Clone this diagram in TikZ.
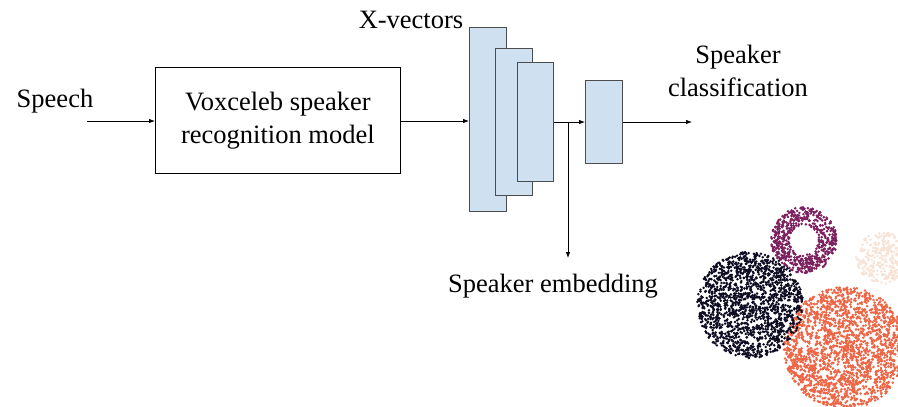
\documentclass[tikz,border=0pt]{standalone}
\usepackage{fontspec}
\setmainfont{Liberation Serif}
\usetikzlibrary{arrows.meta}
\tikzset{
  lbl/.style={font=\fontsize{26.5}{33}\selectfont, align=center, inner sep=0pt},
  xblk/.style={draw=black!70, fill=xfill, line width=0.9pt, inner sep=0pt, anchor=north west},
  conn/.style={line width=0.8pt, -{Latex[length=6pt,width=4.5pt]}},
}
\definecolor{xfill}{HTML}{CFE0F1}
\definecolor{cblack}{HTML}{0E0C22}
\definecolor{cmag}{HTML}{7B1F5E}
\definecolor{corange}{HTML}{EE6545}
\definecolor{ccream}{HTML}{F6E3D6}
\newcommand\myblob[7]{% cx cy Rmax n color seed Rmin-fraction
  \pgfmathsetseed{#6}
  \foreach \i in {1,...,#4}{
    \pgfmathsetmacro\rr{#3*sqrt(#7+(1-#7)*rnd)}
    \pgfmathsetmacro\aa{360*rnd}
    \fill[#5] ({#1+\rr*cos(\aa)},{#2+\rr*sin(\aa)}) circle[radius=1.4pt];
  }}
\begin{document}
\begin{tikzpicture}[x=1pt,y=-1pt]
\useasboundingbox (0,0) rectangle (898,407);
% nodes
\node[lbl] (speech) at (55,101) {Speech};
\node[draw, line width=0.8pt, minimum width=245pt, minimum height=106pt, anchor=north west, lbl] (model) at (155,67) {Voxceleb speaker\\recognition model};
\node[lbl] (xv) at (411,20) {X-vectors};
\node[xblk, minimum width=37pt, minimum height=184pt] (r1) at (469,27) {};
\node[xblk, minimum width=37pt, minimum height=147pt] (r2) at (495,48) {};
\node[xblk, minimum width=36pt, minimum height=119pt] (r3) at (517,62) {};
\node[xblk, minimum width=37pt, minimum height=83pt] (r4) at (585,80) {};
\node[lbl] (cls) at (738,71) {Speaker\\classification};
\node[lbl] (emb) at (553,286) {Speaker embedding};
% connectors
\coordinate (sp0) at (87,121);
\coordinate (br) at (568,122);
\coordinate (embend) at (568,258);
\coordinate (clsend) at (692,122);
\draw[conn] (sp0) -- (sp0 -| model.west);
\draw[conn] (model.east |- sp0) -- (sp0 -| r1.west);
\draw[conn] (br -| r3.east) -- (br -| r4.west);
\draw[conn] (br) -- (embend);
\draw[conn] (br -| r4.east) -- (clsend);
% clusters
\begin{scope}
\clip (0,0) rectangle (898,407);
\myblob{882}{258}{26}{300}{ccream}{7}{0}
\myblob{804}{240}{33}{600}{cmag}{11}{0.2}
\myblob{845}{348}{61}{2000}{corange}{5}{0}
\myblob{750}{305}{53}{1600}{cblack}{3}{0}
\end{scope}
\end{tikzpicture}
\end{document}
